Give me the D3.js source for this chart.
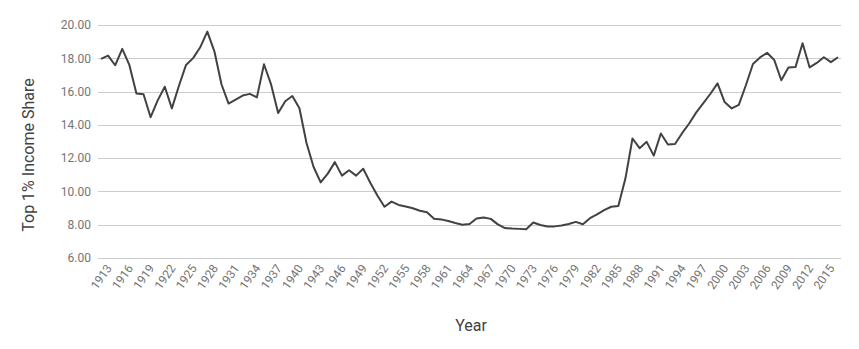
<!DOCTYPE html>
<meta charset="utf-8">
<style>
  body { margin: 0; background: #fff; }
  text { font-family: Roboto, "Liberation Sans", sans-serif; }
  .grid line { stroke: #cccccc; stroke-width: 1px; shape-rendering: crispEdges; }
  .grid .domain { display: none; }
  .axis text { fill: #757575; font-size: 12px; }
  .axis .domain { display: none; }
  .xaxis line { display: none; }
  .line { fill: none; stroke: #424242; stroke-width: 2px; stroke-linejoin: round; }
  .title { fill: #424242; font-size: 16px; }
</style>
<svg width="859" height="349"></svg>
<script src="https://d3js.org/d3.v7.min.js"></script>
<script>

var years = d3.range(1913, 2018);

// top 1% income share, one value per year 1913..2017
var share = [
  17.96, 18.16, 17.58, 18.57, 17.60, 15.88, 15.84, 14.46, 15.47, 16.29,
  14.99, 16.35, 17.60, 18.01, 18.66, 19.60, 18.42, 16.44, 15.28, 15.52,
  15.76, 15.86, 15.65, 17.64, 16.43, 14.71, 15.42, 15.73, 15.00, 12.91,
  11.47, 10.54, 11.07, 11.76, 10.95, 11.27, 10.95, 11.36, 10.52, 9.76,
  9.08, 9.39, 9.19, 9.10, 8.99, 8.84, 8.75, 8.36, 8.32, 8.22,
  8.10, 8.00, 8.04, 8.37, 8.43, 8.35, 8.02, 7.80, 7.77, 7.75,
  7.73, 8.13, 7.98, 7.89, 7.90, 7.95, 8.04, 8.17, 8.03, 8.39,
  8.62, 8.88, 9.08, 9.13, 10.77, 13.18, 12.60, 12.98, 12.15, 13.48,
  12.82, 12.85, 13.50, 14.08, 14.75, 15.30, 15.87, 16.49, 15.37, 14.99,
  15.20, 16.38, 17.66, 18.05, 18.33, 17.90, 16.68, 17.45, 17.47, 18.90,
  17.45, 17.72, 18.06, 17.77, 18.06
];

var yTicks = [6, 8, 10, 12, 14, 16, 18, 20];
var xTicks = d3.range(1913, 2016, 3);

var svg = d3.select("svg"),
    gridLeft = 98, gridRight = 841,
    plotTop = 25, plotBottom = 258;

var x = d3.scaleLinear().domain([1913, 2017]).range([101, 838]);
var y = d3.scaleLinear().domain([6, 20]).range([plotBottom, plotTop]);

// horizontal gridlines + y labels
svg.append("g")
    .attr("class", "grid axis")
    .attr("transform", "translate(" + gridLeft + ",0)")
    .call(d3.axisLeft(y)
      .tickValues(yTicks)
      .tickFormat(d3.format(".2f"))
      .tickSize(-(gridRight - gridLeft))
      .tickPadding(7));

// x labels, slanted
svg.append("g")
    .attr("class", "axis xaxis")
    .attr("transform", "translate(0," + (plotBottom + 6) + ")")
    .call(d3.axisBottom(x).tickValues(xTicks).tickFormat(d3.format("d")).tickSize(0))
  .selectAll("text")
    .attr("text-anchor", "end")
    .attr("dy", "0.35em")
    .attr("transform", "translate(5,0) rotate(-55)");

var line = d3.line()
    .x(function(d, i) { return x(years[i]); })
    .y(function(d) { return y(d); });

svg.append("path")
    .datum(share)
    .attr("class", "line")
    .attr("d", line);

svg.append("text")
    .attr("class", "title")
    .attr("text-anchor", "middle")
    .attr("x", 471)
    .attr("y", 331)
    .text("Year");

svg.append("text")
    .attr("class", "title")
    .attr("text-anchor", "middle")
    .attr("transform", "translate(34,155) rotate(-90)")
    .text("Top 1% Income Share");

</script>
